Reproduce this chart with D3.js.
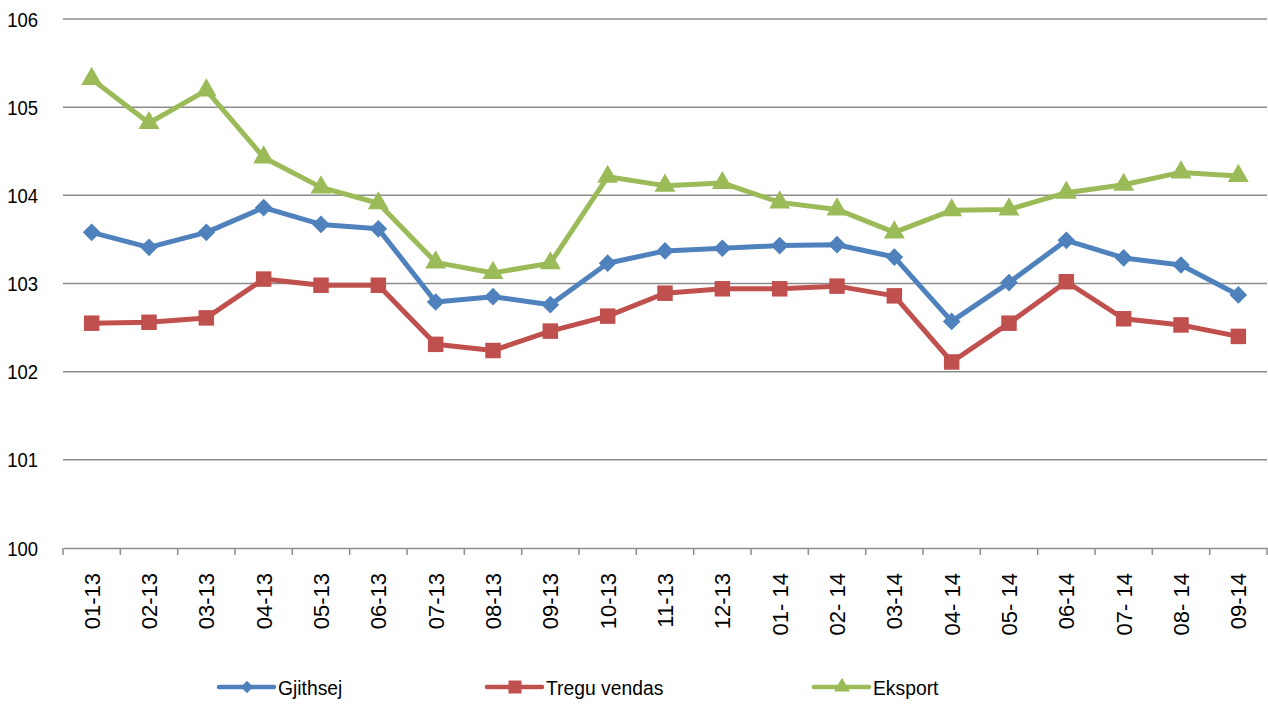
<!DOCTYPE html>
<html>
<head>
<meta charset="utf-8">
<script src="https://cdn.jsdelivr.net/npm/d3@7"></script>
<style>
  body { margin: 0; background: #fff; }
  text { font-family: "Liberation Sans", Arial, sans-serif; fill: #000; }
</style>
</head>
<body>
<div id="chart"></div>
<script>
// categories (month-year)
var months = ["01-13","02-13","03-13","04-13","05-13","06-13","07-13","08-13","09-13","10-13","11-13","12-13",
              "01- 14","02- 14","03-14","04- 14","05- 14","06-14","07- 14","08- 14","09-14"];

// series values
var gjithsej = [103.58,103.41,103.58,103.86,103.67,103.62,102.79,102.85,102.76,103.23,103.37,103.40,
                103.43,103.44,103.30,102.57,103.01,103.49,103.29,103.21,102.87];
var treguVendas = [102.55,102.56,102.61,103.05,102.98,102.98,102.31,102.24,102.46,102.63,102.89,102.94,
                   102.94,102.97,102.86,102.11,102.55,103.02,102.60,102.53,102.40];
var eksport = [105.32,104.82,105.19,104.43,104.09,103.91,103.24,103.12,103.23,104.21,104.11,104.14,
               103.92,103.84,103.58,103.83,103.84,104.03,104.12,104.26,104.22];

var yTicks = [100, 101, 102, 103, 104, 105, 106];

var series = [
  { name: "Gjithsej", values: gjithsej, color: "#4F81BD", marker: "diamond" },
  { name: "Tregu vendas", values: treguVendas, color: "#C0504D", marker: "square" },
  { name: "Eksport", values: eksport, color: "#9BBB59", marker: "triangle" }
];

var width = 1268, height = 704;
var plotLeft = 63, plotRight = 1267, plotTop = 19, plotBottom = 548;

var svg = d3.select("#chart")
            .append("svg")
            .attr("width", width)
            .attr("height", height);

var x = d3.scaleBand().domain(months).range([plotLeft, plotRight]);
var y = d3.scaleLinear().domain([100, 106]).range([plotBottom, plotTop]);
var cx = m => x(m) + x.bandwidth() / 2;

// gridlines
svg.append("g")
   .selectAll("line")
   .data(yTicks.slice(1))
   .enter()
   .append("line")
   .attr("x1", plotLeft).attr("x2", plotRight)
   .attr("y1", d => y(d)).attr("y2", d => y(d))
   .style("stroke", "#8c8c8c")
   .style("stroke-width", 1.5);

// y labels
svg.append("g")
   .selectAll("text")
   .data(yTicks)
   .enter()
   .append("text")
   .attr("transform", d => "translate(38," + y(d) + ") scale(0.88,1)")
   .attr("dy", "0.36em")
   .attr("text-anchor", "end")
   .style("font-size", "21px")
   .text(d => d);

// x axis
var xAxis = svg.append("g")
   .attr("transform", "translate(0," + plotBottom + ")")
   .call(d3.axisBottom(x).tickSize(0).tickFormat(""));
xAxis.select(".domain").style("stroke", "#8c8c8c").style("stroke-width", 1.5);

var tickPos = months.map(m => x(m)).concat([plotRight]);
svg.append("g")
   .selectAll("line")
   .data(tickPos)
   .enter()
   .append("line")
   .attr("x1", d => d).attr("x2", d => d)
   .attr("y1", plotBottom).attr("y2", plotBottom + 7)
   .style("stroke", "#8c8c8c")
   .style("stroke-width", 1.5);

svg.append("g")
   .selectAll("text")
   .data(months)
   .enter()
   .append("text")
   .attr("transform", d => "translate(" + cx(d) + "," + (plotBottom + 25) + ") rotate(-90)")
   .attr("dy", "0.36em")
   .attr("text-anchor", "end")
   .style("font-size", "22px")
   .text(d => d);

var symbolFor = {
  diamond: d3.symbol().type(d3.symbolDiamond2).size(200),
  square: d3.symbol().type(d3.symbolSquare).size(240),
  triangle: d3.symbol().type(d3.symbolTriangle).size(190)
};

var line = d3.line()
   .x((d, i) => cx(months[i]))
   .y(d => y(d));

series.forEach(function(s) {
  var g = svg.append("g");
  g.append("path")
   .attr("d", line(s.values))
   .style("fill", "none")
   .style("stroke", s.color)
   .style("stroke-width", 5)
   .style("stroke-linejoin", "round");
  g.selectAll("path.m")
   .data(s.values)
   .enter()
   .append("path")
   .attr("class", "m")
   .attr("d", symbolFor[s.marker])
   .attr("transform", (d, i) => "translate(" + cx(months[i]) + "," + y(d) + ")")
   .style("fill", s.color);
});

// legend
var legendX = [219, 487, 814];
var legendSymbol = {
  diamond: d3.symbol().type(d3.symbolDiamond2).size(98),
  square: d3.symbol().type(d3.symbolSquare).size(169),
  triangle: d3.symbol().type(d3.symbolTriangle).size(110)
};
var legend = svg.append("g");
series.forEach(function(s, i) {
  var lg = legend.append("g").attr("transform", "translate(" + legendX[i] + ",687)");
  lg.append("line")
    .attr("x1", 0).attr("x2", 55)
    .style("stroke", s.color)
    .style("stroke-width", 4.5)
    .style("stroke-linecap", "round");
  lg.append("path")
    .attr("d", legendSymbol[s.marker])
    .attr("transform", "translate(28,0)")
    .style("fill", s.color);
  lg.append("text")
    .attr("transform", "translate(59,0) scale(0.92,1)")
    .attr("dy", "0.36em")
    .style("font-size", "21px")
    .text(s.name);
});
</script>
</body>
</html>
